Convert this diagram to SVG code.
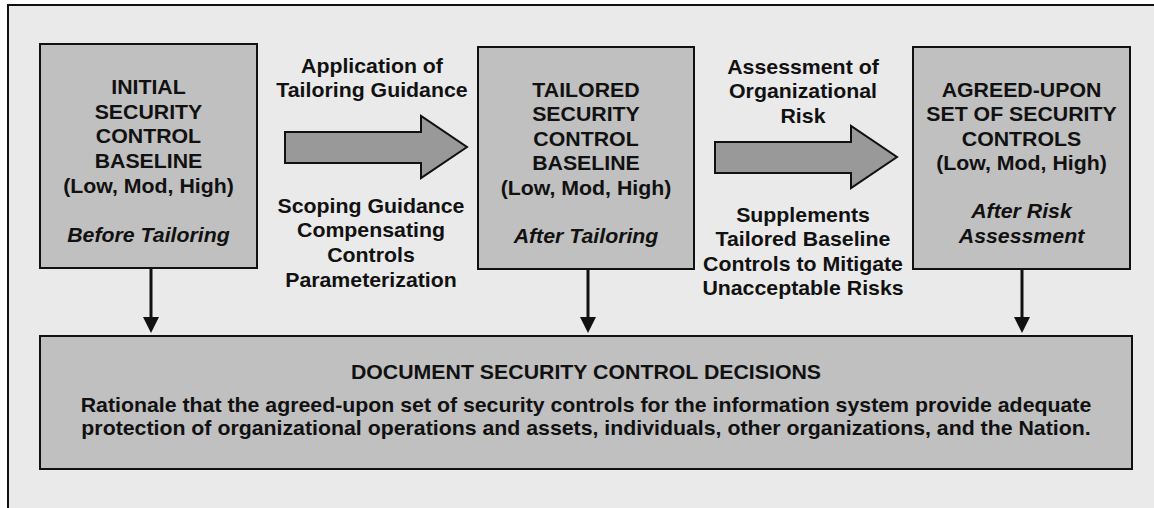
<svg xmlns="http://www.w3.org/2000/svg" width="1154" height="508" viewBox="0 0 1154 508">
<style>
.box{fill:#c0c0c0;stroke:#111;stroke-width:2}
.arr{fill:#999;stroke:#111;stroke-width:2}
.t{font-family:"Liberation Sans",Arial,sans-serif;font-size:20px;font-weight:bold;fill:#111;text-anchor:middle;transform-box:fill-box;transform-origin:center;transform:scaleX(1.065)}
.i{font-style:italic}
.ln{stroke:#111;stroke-width:3;fill:none}
.hd{fill:#111}
</style>
<rect x="0" y="0" width="1154" height="508" fill="#fff"/>
<rect x="8" y="5" width="1160" height="520" fill="#eaeaea" stroke="#111" stroke-width="2"/>
<g id="node-initial">
<rect class="box" x="40" y="44" width="217" height="224"/>
<text class="t" x="148.5" y="94">INITIAL</text>
<text class="t" x="148.5" y="119">SECURITY</text>
<text class="t" x="148.5" y="143">CONTROL</text>
<text class="t" x="148.5" y="168">BASELINE</text>
<text class="t" x="148.5" y="193">(Low, Mod, High)</text>
<text class="t i" x="148.5" y="242">Before Tailoring</text>
</g>
<g id="node-tailored">
<rect class="box" x="478" y="47" width="216" height="222"/>
<text class="t" x="586" y="97">TAILORED</text>
<text class="t" x="586" y="121">SECURITY</text>
<text class="t" x="586" y="146">CONTROL</text>
<text class="t" x="586" y="170">BASELINE</text>
<text class="t" x="586" y="195">(Low, Mod, High)</text>
<text class="t i" x="586" y="243">After Tailoring</text>
</g>
<g id="node-agreed">
<rect class="box" x="913" y="47" width="217" height="222"/>
<text class="t" x="1021.5" y="97">AGREED-UPON</text>
<text class="t" x="1021.5" y="121">SET OF SECURITY</text>
<text class="t" x="1021.5" y="146">CONTROLS</text>
<text class="t" x="1021.5" y="170">(Low, Mod, High)</text>
<text class="t i" x="1021.5" y="218">After Risk</text>
<text class="t i" x="1021.5" y="243">Assessment</text>
</g>
<g id="node-document">
<rect class="box" x="40" y="336" width="1092" height="133"/>
<text class="t" x="586" y="379">DOCUMENT SECURITY CONTROL DECISIONS</text>
<text class="t" x="586" y="412">Rationale that the agreed-upon set of security controls for the information system provide adequate</text>
<text class="t" x="586" y="435">protection of organizational operations and assets, individuals, other organizations, and the Nation.</text>
</g>
<g id="connectors">
<polygon class="arr" points="285,132 421,132 421,116 467,147 421,178 421,163 285,163"/>
<polygon class="arr" points="715,142 851,142 851,126 897,157 851,188 851,173 715,173"/>
<line class="ln" x1="151" y1="268" x2="151" y2="318"/>
<polygon class="hd" points="143,317 159,317 151,333"/>
<line class="ln" x1="588" y1="269" x2="588" y2="318"/>
<polygon class="hd" points="580,317 596,317 588,333"/>
<line class="ln" x1="1022" y1="269" x2="1022" y2="318"/>
<polygon class="hd" points="1014,317 1030,317 1022,333"/>
<text class="t" x="372" y="73">Application of</text>
<text class="t" x="372" y="97">Tailoring Guidance</text>
<text class="t" x="371" y="213">Scoping Guidance</text>
<text class="t" x="371" y="237">Compensating</text>
<text class="t" x="371" y="262">Controls</text>
<text class="t" x="371" y="287">Parameterization</text>
<text class="t" x="803" y="74">Assessment of</text>
<text class="t" x="803" y="98">Organizational</text>
<text class="t" x="803" y="123">Risk</text>
<text class="t" x="803" y="222">Supplements</text>
<text class="t" x="803" y="246">Tailored Baseline</text>
<text class="t" x="803" y="271">Controls to Mitigate</text>
<text class="t" x="803" y="295">Unacceptable Risks</text>
</g>
</svg>
